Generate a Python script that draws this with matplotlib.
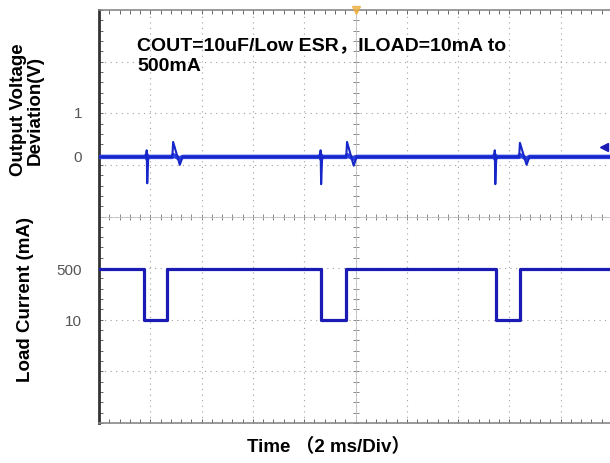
import matplotlib.pyplot as plt
import numpy as np

plt.rcParams['font.family'] = ['Liberation Sans', 'Noto Sans CJK SC', 'DejaVu Sans']

# load current (mA) versus time (ms)
t_load = [0, 1.75, 1.75, 2.65, 2.65, 8.65, 8.65, 9.63, 9.63, 15.48, 15.48, 16.41, 16.41, 20]
i_load = [500, 500, 10, 10, 500, 500, 10, 10, 500, 500, 10, 10, 500, 500]

# output voltage deviation (V) versus time (ms)
t_out = [0, 1.84, 1.86, 1.88, 1.92, 2.86, 2.89, 3.15, 3.26,
         8.62, 8.64, 8.66, 8.70, 9.64, 9.67, 9.93, 10.04,
         15.41, 15.43, 15.45, 15.49, 16.38, 16.41, 16.67, 16.78, 20]
v_out = [0, 0, 0.15, -0.6, 0, 0, 0.34, -0.18, 0,
         0, 0.15, -0.62, 0, 0, 0.34, -0.2, 0,
         0, 0.15, -0.62, 0, 0, 0.32, -0.18, 0, 0]

v_ticks = [0, 1]
v_labels = ['0', '1']
i_ticks = [10, 500]
i_labels = ['10', '500']

fig = plt.figure(figsize=(6.10, 4.63), dpi=100)
rect = [99 / 610, 1 - 423 / 463, 513 / 610, 413 / 463]

# scope graticule, 10 x 8 divisions
ax = fig.add_axes(rect)
ax.set_xlim(0, 10)
ax.set_ylim(0, 8)
for x in range(1, 10):
    ax.axvline(x, color='#a0a0a0', lw=0.8, ls=(0, (1, 4)), zorder=0)
for y in range(1, 8):
    ax.axhline(y, color='#a0a0a0', lw=0.8, ls=(0, (1, 4)), zorder=0)
minor = np.arange(0, 10.01, 0.2)
ax.plot(minor, np.full_like(minor, 4), ls='none', marker='|', ms=4, color='#888888', mew=0.7)
ax.axhline(4, color='#c0c0c0', lw=0.6)
minor_v = np.arange(0, 8.01, 0.2)
ax.plot(np.full_like(minor_v, 5), minor_v, ls='none', marker='_', ms=4, color='#888888', mew=0.7)
ax.axvline(5, color='#c0c0c0', lw=0.6)
ax.set_xticks([])
ax.set_yticks([])
ax.set_xticks(minor, minor=True)
ax.set_yticks(minor_v, minor=True)
ax.tick_params(which='minor', direction='in', length=3, width=0.7, color='#666666',
               top=True, bottom=True, left=True, right=False)
ax.spines['right'].set_visible(False)
ax.spines['left'].set_color('#333333')
ax.spines['left'].set_linewidth(2)
for s in ['top', 'bottom']:
    ax.spines[s].set_color('#888888')
    ax.spines[s].set_linewidth(1.2)

# voltage channel: thick noisy baseline, thin spikes
axv = fig.add_axes(rect, facecolor='none')
axv.plot(t_out, np.clip(v_out, -0.04, 0.04), color='#2a3fe0', lw=3.2)
axv.plot(t_out, v_out, color='#1626c8', lw=1.5)
axv.set_xlim(0, 20)
axv.set_ylim(-6.05, 3.34)
axv.set_yticks(v_ticks, v_labels)
axv.set_xticks([])
axv.tick_params(axis='y', length=0, pad=12, labelsize=11, labelcolor='#555555')
for s in axv.spines.values():
    s.set_visible(False)

# current channel
axi = fig.add_axes(rect, facecolor='none')
axi.plot(t_load, i_load, color='#1a1ab4', lw=2.3)
axi.set_xlim(0, 20)
axi.set_ylim(-980, 2990)
axi.set_yticks(i_ticks, i_labels)
axi.set_xticks([])
axi.tick_params(axis='y', length=0, pad=12, labelsize=11, labelcolor='#555555')
for s in axi.spines.values():
    s.set_visible(False)

# scope markers
axi.plot([10], [1.0], transform=axi.get_xaxis_transform(), marker='v', ms=6,
         color='#f0b040', clip_on=False, alpha=0.8)
axv.plot([0.985], [0.668], transform=axv.transAxes, marker='<', ms=6,
         color='#1a1ab4', clip_on=False)

fig.text(137 / 610, 1 - 56 / 463, 'COUT=10uF/Low ESR，ILOAD=10mA to\n500mA',
         fontsize=14, fontweight='bold', ha='left', va='center', linespacing=1.35)
fig.text(27 / 610, 1 - 110 / 463, 'Output Voltage\nDeviation(V)', rotation=90,
         fontsize=13.5, fontweight='bold', ha='center', va='center',
         multialignment='center', linespacing=0.95)
fig.text(26 / 610, 1 - 300 / 463, 'Load Current (mA)', rotation=90,
         fontsize=13.5, fontweight='bold', ha='center', va='center')
fig.text(329 / 610, 1 - 447 / 463, 'Time （2 ms/Div）',
         fontsize=13.5, fontweight='bold', ha='center', va='center')

fig.savefig('out.png', dpi=100)
